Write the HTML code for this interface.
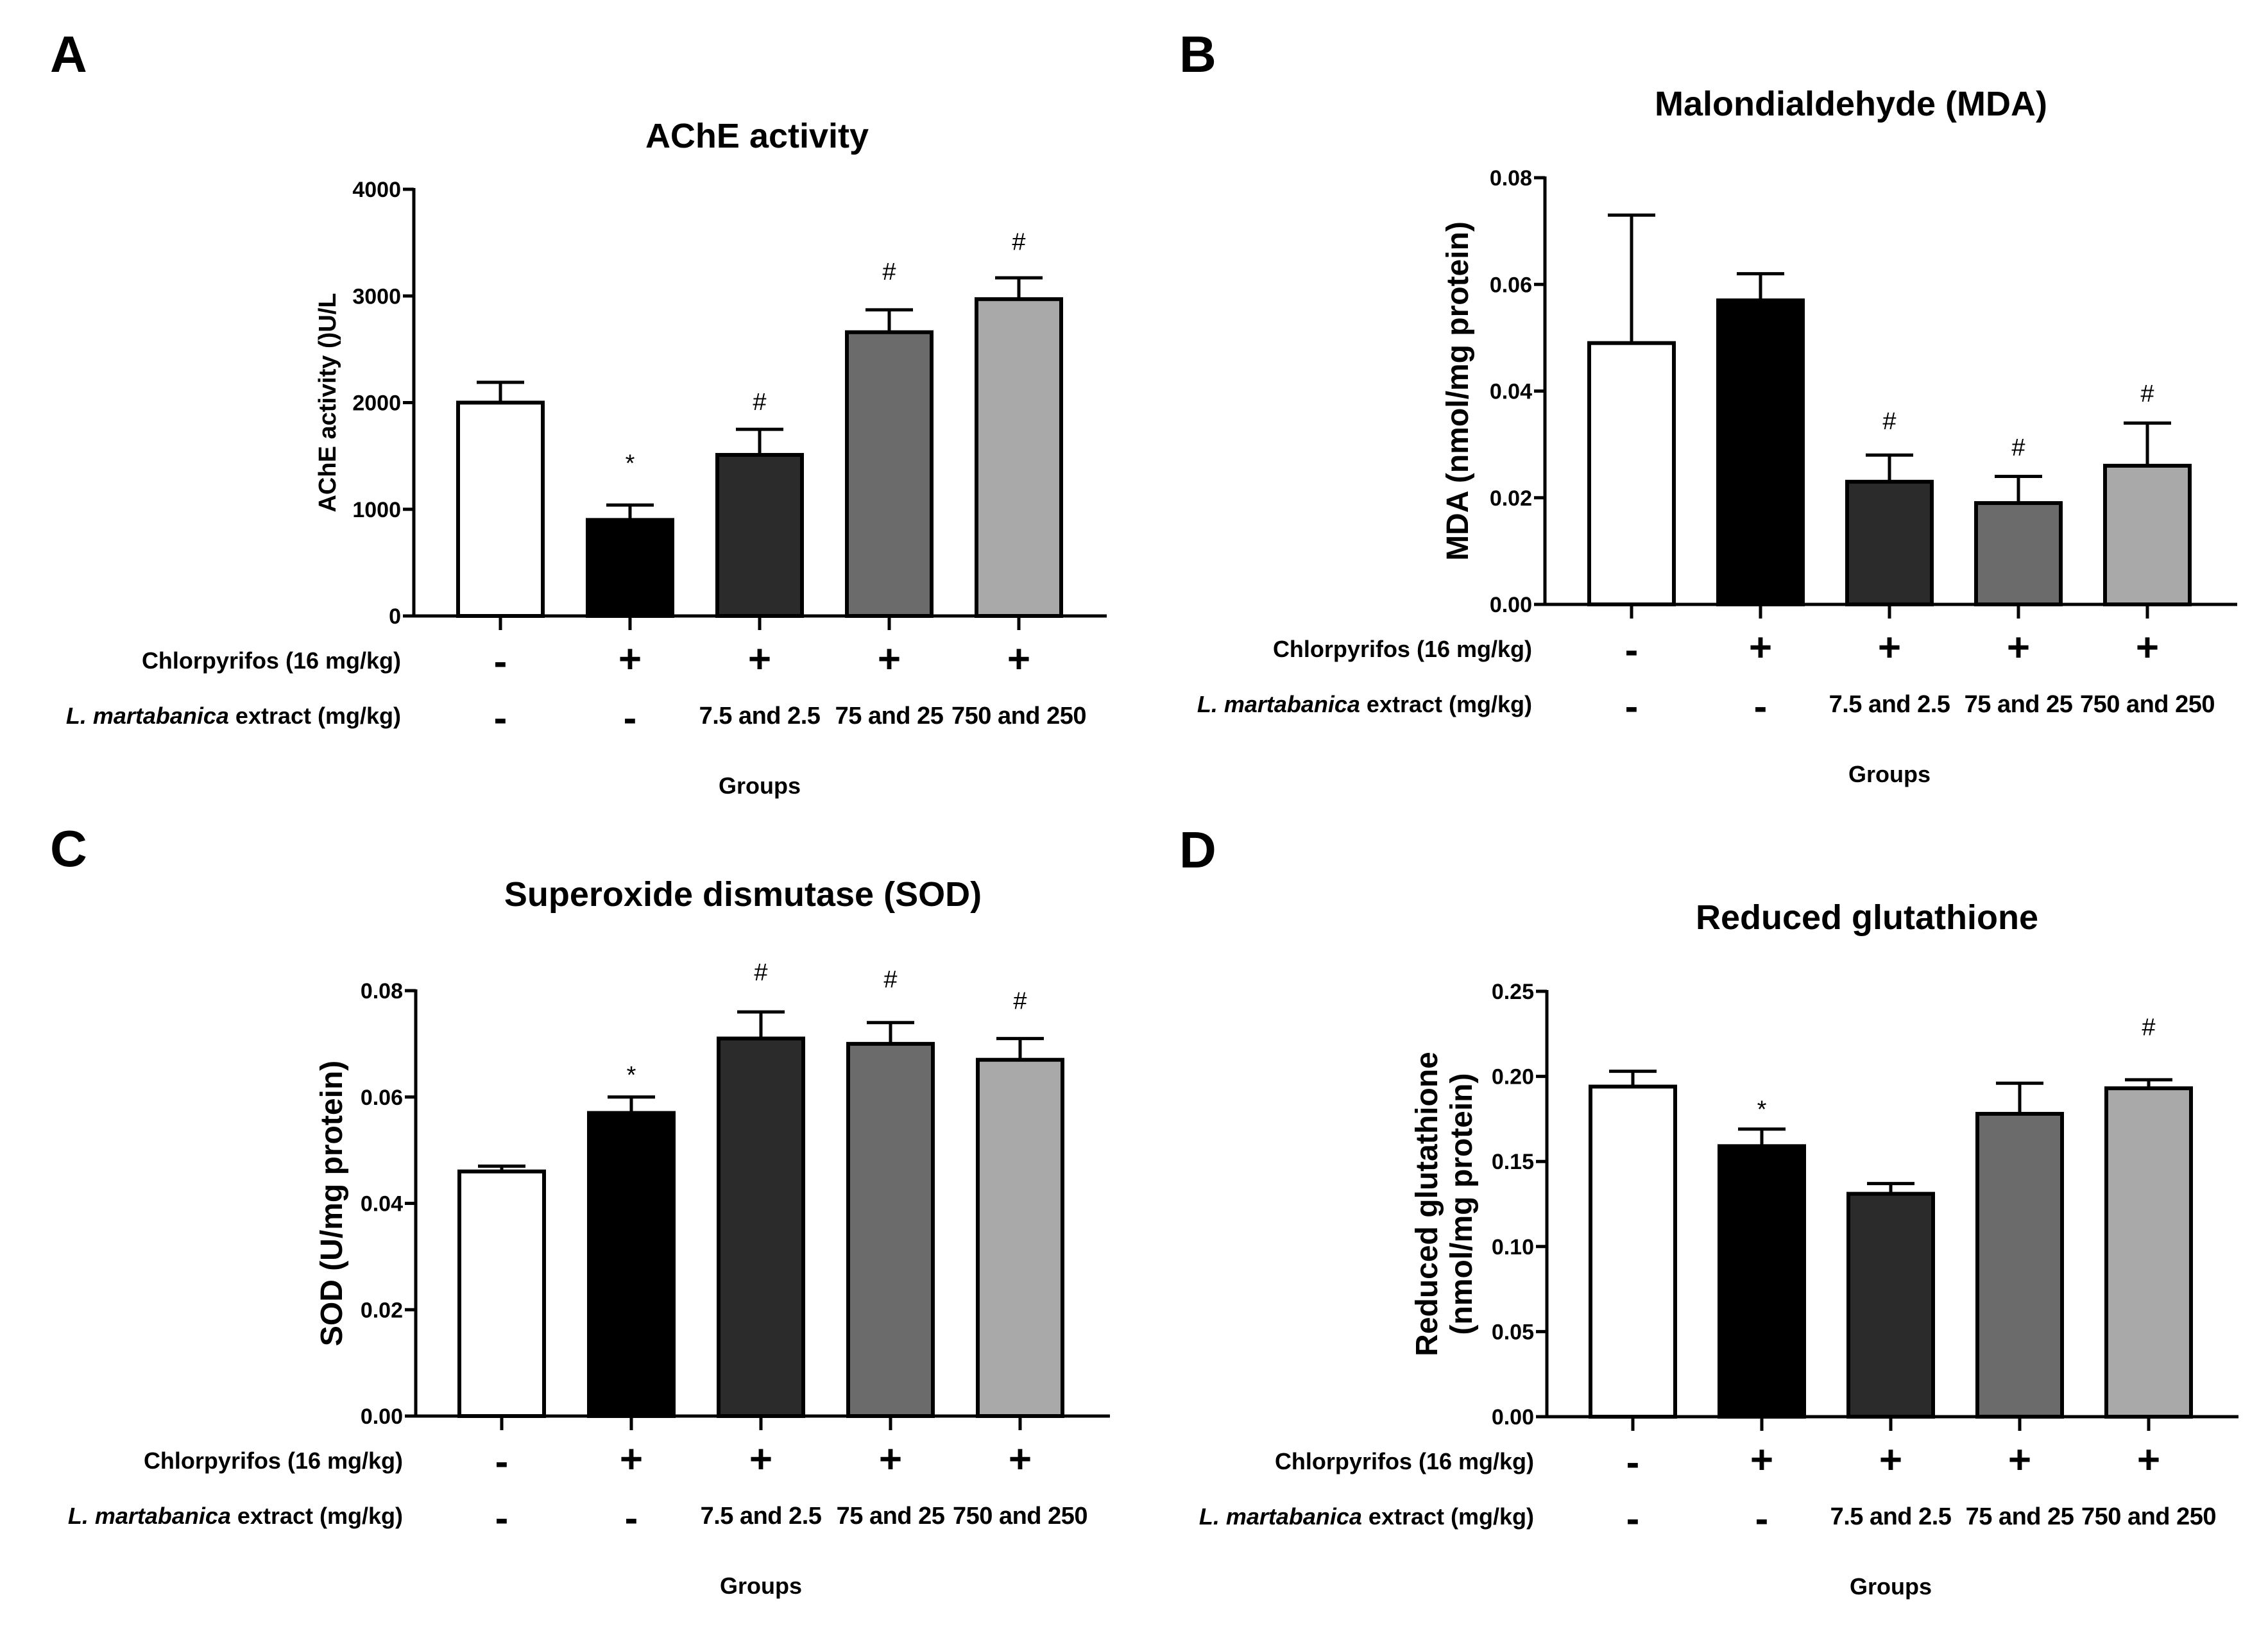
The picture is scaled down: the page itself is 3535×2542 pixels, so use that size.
<!DOCTYPE html>
<html><head><meta charset="utf-8"><style>
html,body{margin:0;padding:0;background:#fff;}
svg{display:block;font-family:"Liberation Sans",Arial,sans-serif;}
</style></head><body>
<svg id="fig" width="3535" height="2542" viewBox="0 0 3535 2542" xmlns="http://www.w3.org/2000/svg"></svg>
<script>
// ---- data ----
const groups = ["control","cpf","cpf-low","cpf-mid","cpf-high"];
const chlorpyrifos = ["-","+","+","+","+"];
const extractDose = ["-","-","7.5 and 2.5","75 and 25","750 and 250"];
const fills = ["#ffffff","#000000","#2b2b2b","#6b6b6b","#a9a9a9"];

const achMean = [2000, 900, 1510, 2660, 2970];
const achErr  = [190, 140, 240, 210, 200];
const achMarks = ["", "*", "#", "#", "#"];
const achMarkAt = [0, 1500, 2010, 3230, 3510];
const achTicks = [0, 1000, 2000, 3000, 4000];
const achTickLabels = ["0","1000","2000","3000","4000"];

const mdaMean = [0.049, 0.057, 0.023, 0.019, 0.026];
const mdaErr  = [0.024, 0.005, 0.005, 0.005, 0.008];
const mdaMarks = ["", "", "#", "#", "#"];
const mdaMarkAt = [0, 0, 0.0344, 0.0295, 0.0396];
const mdaTicks = [0, 0.02, 0.04, 0.06, 0.08];
const mdaTickLabels = ["0.00","0.02","0.04","0.06","0.08"];

const sodMean = [0.046, 0.057, 0.071, 0.070, 0.067];
const sodErr  = [0.001, 0.003, 0.005, 0.004, 0.004];
const sodMarks = ["", "*", "#", "#", "#"];
const sodMarkAt = [0, 0.0655, 0.0835, 0.0822, 0.0781];
const sodTicks = [0, 0.02, 0.04, 0.06, 0.08];
const sodTickLabels = ["0.00","0.02","0.04","0.06","0.08"];

const gshMean = [0.194, 0.159, 0.131, 0.178, 0.193];
const gshErr  = [0.009, 0.010, 0.006, 0.018, 0.005];
const gshMarks = ["", "*", "", "", "#"];
const gshMarkAt = [0, 0.185, 0, 0, 0.229];
const gshTicks = [0, 0.05, 0.10, 0.15, 0.20, 0.25];
const gshTickLabels = ["0.00","0.05","0.10","0.15","0.20","0.25"];

const NS = "http://www.w3.org/2000/svg";
const svg = document.getElementById("fig");
function mk(tag, attrs, parent, txt){
  const e = document.createElementNS(NS, tag);
  for (const k in attrs) e.setAttribute(k, attrs[k]);
  if (txt !== undefined) e.textContent = txt;
  (parent || svg).appendChild(e);
  return e;
}

function panel(p){
  const g = mk("g", {});
  
  
  const yMax = p.ticks[p.ticks.length-1];
  const yS = v => p.y0 - v / yMax * (p.y0 - p.y1);
  const xS = i => p.x0 + p.first + i * p.step;
  const bw = 132;

  let t = mk("text", {x:p.lx, y:p.ly, "font-size":80, "font-weight":"bold"}, g, p.letter);
  
  
  t = mk("text", {x:p.tx, y:p.ty, "font-size":54, "font-weight":"bold", "text-anchor":"middle"}, g, p.title);
  
  

  p.mean.forEach((v, i) => {
    const cx = xS(i);
    const top = yS(v + p.err[i]);
    let l = mk("line", {x1:cx, x2:cx, y1:yS(v), y2:top, stroke:"#000", "stroke-width":5}, g);
    
    
    l = mk("line", {x1:cx-37, x2:cx+37, y1:top, y2:top, stroke:"#000", "stroke-width":5}, g);
    
    
    const r = mk("rect", {x:cx-bw/2, y:yS(v), width:bw, height:p.y0 - yS(v), fill:fills[i], stroke:"#000", "stroke-width":6}, g);
    
    
    if (p.marks[i]) {
      const star = p.marks[i] === "*";
      const m = mk("text", {x:cx, y:yS(p.markAt[i]) + (star ? 24 : 13), "font-size":38, "text-anchor":"middle"}, g, p.marks[i]);
      
      
    }
    const tk = mk("line", {x1:cx, x2:cx, y1:p.y0, y2:p.y0+22, stroke:"#000", "stroke-width":5}, g);
    
    
    const plus = chlorpyrifos[i] === "+";
    const a = mk("text", {x:cx, y:p.y0+(plus?88:92), "font-size":plus?62:62, "font-weight":"bold", "text-anchor":"middle"}, g, plus?"+":"-");
    
    
    const dose = extractDose[i];
    const b = mk("text", {x:cx, y:p.y0+(dose==="-"?180:168), "font-size":dose==="-"?62:38, "font-weight":"bold", "text-anchor":"middle", "letter-spacing":dose==="-"?0:-0.5}, g, dose);
    
    
  });

  let ax = mk("line", {x1:p.x0, x2:p.x0, y1:p.y1-2, y2:p.y0+2, stroke:"#000", "stroke-width":5}, g);
  
  
  ax = mk("line", {x1:p.x0-2, x2:p.xEnd, y1:p.y0, y2:p.y0, stroke:"#000", "stroke-width":5}, g);
  
  
  p.ticks.forEach((v, i) => {
    const y = yS(v);
    const l = mk("line", {x1:p.x0-17, x2:p.x0, y1:y, y2:y, stroke:"#000", "stroke-width":5}, g);
    
    
    const tl = mk("text", {x:p.x0-20, y:y+12, "font-size":34, "font-weight":"bold", "text-anchor":"end"}, g, p.tickLabels[i]);
    
    
  });

  const yc = (p.y0 + p.y1) / 2;
  p.ytitle.forEach((line, k) => {
    const x = p.yx + k * p.ylh;
    const yt = mk("text", {x:x, y:yc, "font-size":p.yfs, "font-weight":"bold", "text-anchor":"middle", transform:`rotate(-90 ${x} ${yc})`}, g, line);
    
    
  });

  const rx = p.x0 - 20;
  let r1 = mk("text", {x:rx, y:p.y0+82, "font-size":36, "font-weight":"bold", "text-anchor":"end"}, g, "Chlorpyrifos (16 mg/kg)");
  
  
  let r2 = mk("text", {x:rx, y:p.y0+168, "font-size":36, "font-weight":"bold", "text-anchor":"end"}, g);
  
  
  mk("tspan", {"font-style":"italic"}, r2, "L. martabanica");
  mk("tspan", {}, r2, " extract (mg/kg)");
  const gl = mk("text", {x:xS(2), y:p.y0+277, "font-size":36, "font-weight":"bold", "text-anchor":"middle"}, g, "Groups");
  
  
}

panel({id:"ache", letter:"A", lx:78, ly:112, title:"AChE activity", tx:1180, ty:230,
  x0:645, y0:960, y1:295, xEnd:1725, first:135, step:202,
  mean:achMean, err:achErr, marks:achMarks, markAt:achMarkAt, ticks:achTicks, tickLabels:achTickLabels,
  ytitle:["AChE activity ()U/L"], yx:523, ylh:0, yfs:38});

panel({id:"mda", letter:"B", lx:1838, ly:112, title:"Malondialdehyde (MDA)", tx:2885, ty:180,
  x0:2408, y0:942, y1:277, xEnd:3487, first:135, step:201,
  mean:mdaMean, err:mdaErr, marks:mdaMarks, markAt:mdaMarkAt, ticks:mdaTicks, tickLabels:mdaTickLabels,
  ytitle:["MDA (nmol/mg protein)"], yx:2288, ylh:0, yfs:48});

panel({id:"sod", letter:"C", lx:78, ly:1350, title:"Superoxide dismutase (SOD)", tx:1158, ty:1412,
  x0:648, y0:2207, y1:1544, xEnd:1730, first:134, step:202,
  mean:sodMean, err:sodErr, marks:sodMarks, markAt:sodMarkAt, ticks:sodTicks, tickLabels:sodTickLabels,
  ytitle:["SOD (U/mg protein)"], yx:533, ylh:0, yfs:48});

panel({id:"gsh", letter:"D", lx:1838, ly:1352, title:"Reduced glutathione", tx:2910, ty:1448,
  x0:2411, y0:2208, y1:1545, xEnd:3489, first:134, step:201,
  mean:gshMean, err:gshErr, marks:gshMarks, markAt:gshMarkAt, ticks:gshTicks, tickLabels:gshTickLabels,
  ytitle:["Reduced glutathione","(nmol/mg protein)"], yx:2240, ylh:54, yfs:48});
</script>
</body></html>
